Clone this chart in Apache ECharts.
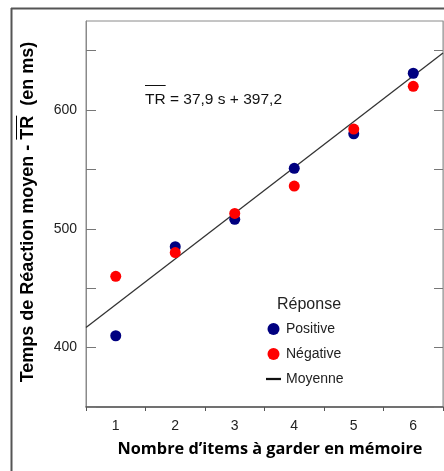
<!DOCTYPE html>
<html><head><meta charset="utf-8">
<script src="https://cdn.jsdelivr.net/npm/echarts@6/dist/echarts.min.js"></script>
<style>html,body{margin:0;padding:0;background:#fff}#c{width:444px;height:471px}</style>
</head><body><div id="c"></div>
<script>
// ---- data ----
const itemCounts = [1, 2, 3, 4, 5, 6];
const positive = [410, 485, 508, 551, 580, 631];
const negative = [460, 480, 513, 536, 584, 620];
const meanLineX = [0.5, 6.5];
const meanLineY = [417, 648];
const yTickValues = [350, 400, 450, 500, 550, 600, 650];
const yTickLabels = [400, 500, 600];
const xTickBounds = [0.5, 1.5, 2.5, 3.5, 4.5, 5.5, 6.5];
const equationText = 'TR = 37,9 s + 397,2';
const yTitle = 'Temps de Réaction moyen - TR  (en ms)';
const yTitlePrefix = 'Temps de Réaction moyen - ';
const xTitle = 'Nombre d\u2019items à garder en mémoire';

const chart = echarts.init(document.getElementById('c'), null, {renderer: 'canvas'});

const ctx = document.createElement('canvas').getContext('2d');
function tw(font, s) { ctx.font = font; return ctx.measureText(s).width; }

const yFont = 'bold 18px "Liberation Sans"';
const yW = tw(yFont, yTitle);
const yPreW = tw(yFont, yTitlePrefix);
const yTRW = tw(yFont, 'TR');
const yCx = 28, yCy = 212;
const trStart = yCy + yW / 2 - yPreW;

const eqFont = '15.5px "Liberation Sans"';
const eqTRW = tw(eqFont, 'TR');
const eqX = 145, eqY = 92;

const option = {
  animation: false,
  backgroundColor: '#fff',
  grid: {left: 86, top: 21, right: 1, bottom: 64, show: true, borderColor: '#8a8a8a', borderWidth: 1},
  xAxis: [{
    type: 'value', min: 0.5, max: 6.5,
    axisLine: {show: true, onZero: false, lineStyle: {color: '#555', width: 1.5}},
    axisTick: {show: true, inside: false, length: 4, customValues: xTickBounds, lineStyle: {color: '#555'}},
    axisLabel: {customValues: itemCounts, fontSize: 14, color: '#222', fontFamily: 'Liberation Sans', margin: 12},
    splitLine: {show: false},
    name: xTitle, nameLocation: 'middle', nameGap: 34,
    nameTextStyle: {fontSize: 16.3, fontWeight: 'bold', fontFamily: 'Open Sans', color: '#000', padding: [0, 0, 0, 11]}
  }],
  yAxis: [{
    type: 'value', min: 350, max: 675, position: 'left',
    axisLine: {show: true, lineStyle: {color: '#8a8a8a'}},
    axisTick: {show: true, inside: true, length: 10, customValues: yTickValues, lineStyle: {color: '#777'}},
    axisLabel: {customValues: yTickLabels, fontSize: 14, color: '#222', fontFamily: 'Liberation Sans', margin: 9},
    splitLine: {show: false}
  }, {
    type: 'value', min: 350, max: 675, position: 'right',
    axisLine: {show: true, lineStyle: {color: '#aaa'}},
    axisTick: {show: true, inside: true, length: 9, customValues: yTickValues, lineStyle: {color: '#777'}},
    axisLabel: {show: false},
    splitLine: {show: false}
  }],
  legend: {
    orient: 'vertical', left: 266, top: 322, padding: 0, itemWidth: 15, itemHeight: 12, itemGap: 11,
    textStyle: {fontSize: 14, fontFamily: 'Liberation Sans', color: '#222', lineHeight: 14},
    data: [
      {name: 'Positive', icon: 'circle'},
      {name: 'Négative', icon: 'circle'},
      {name: 'Moyenne', icon: 'path://M0,0 L20,0 L20,3 L0,3 Z'}
    ]
  },
  title: {
    text: 'Réponse', left: 272, top: 292,
    textStyle: {fontSize: 16, fontWeight: 'normal', fontFamily: 'Liberation Sans', color: '#222'}
  },
  graphic: [
    {type: 'line', shape: {x1: 11.5, y1: 8, x2: 11.5, y2: 471}, style: {stroke: '#555', lineWidth: 2}, silent: true},
    {type: 'line', shape: {x1: 11, y1: 8.5, x2: 444, y2: 8.5}, style: {stroke: '#555', lineWidth: 2}, silent: true},
    {type: 'text', x: eqX, y: eqY, style: {text: equationText, font: eqFont, fill: '#111', textVerticalAlign: 'top'}},
    {type: 'line', shape: {x1: eqX, y1: 85.5, x2: eqX + eqTRW, y2: 85.5}, style: {stroke: '#111', lineWidth: 1}},
    {type: 'text', x: yCx, y: yCy, rotation: Math.PI / 2,
      style: {text: yTitle, font: yFont, fill: '#000', textAlign: 'center', textVerticalAlign: 'middle'}},
    {type: 'line', shape: {x1: 16.5, y1: trStart, x2: 16.5, y2: trStart - yTRW}, style: {stroke: '#000', lineWidth: 1}}
  ],
  series: [
    {name: 'Moyenne', type: 'line', symbol: 'none', z: 1,
      lineStyle: {color: '#333', width: 1.3}, itemStyle: {color: '#111'},
      data: meanLineX.map((x, i) => [x, meanLineY[i]])},
    {name: 'Positive', type: 'scatter', symbolSize: 11, z: 2,
      itemStyle: {color: '#000080', opacity: 1},
      data: itemCounts.map((x, i) => [x, positive[i]])},
    {name: 'Négative', type: 'scatter', symbolSize: 11, z: 3,
      itemStyle: {color: '#ff0000', opacity: 1},
      data: itemCounts.map((x, i) => [x, negative[i]])}
  ]
};
chart.setOption(option);
</script>
</body></html>
